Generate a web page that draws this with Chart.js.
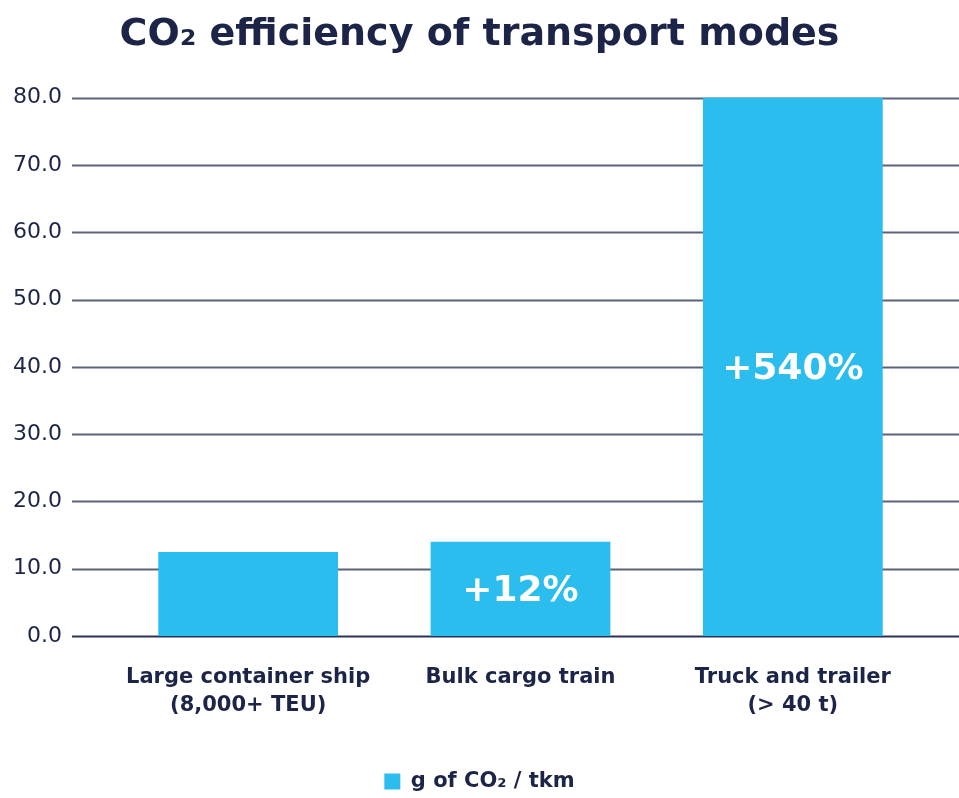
<!DOCTYPE html>
<html>
<head>
<meta charset="utf-8">
<script src="https://cdn.jsdelivr.net/npm/chart.js@4"></script>
<style>
  html, body { margin: 0; padding: 0; background: #fff; }
  #wrap { width: 959px; height: 798px; }
</style>
</head>
<body>
<div id="wrap"><canvas id="grafico"></canvas></div>
<script>
// dados
const categorias = [['Large container ship', '(8,000+ TEU)'], 'Bulk cargo train', ['Truck and trailer', '(> 40 t)']];
const valores = [12.5, 14.0, 80.0];
const rotulosBarra = ['', '+12%', '+540%'];
const serieNome = 'g of CO\u2082 / tkm';
const titulo = 'CO\u2082 efficiency of transport modes';

const azul = '#2bbdee';
const marinho = '#1c2548';
const fonte = '"DejaVu Sans", sans-serif';

// linhas de grade que passam da área do gráfico (como no original)
const gradeLarga = {
    id: 'gradeLarga',
    beforeDatasetsDraw(chart) {
        const ctx = chart.ctx;
        const y = chart.scales.y;
        ctx.save();
        y.ticks.forEach(t => {
            const py = Math.round(y.getPixelForValue(t.value)) + 0.5;
            ctx.strokeStyle = t.value === 0 ? '#2a3354' : '#5b6379';
            ctx.lineWidth = 2;
            ctx.beginPath();
            ctx.moveTo(72, py);
            ctx.lineTo(chart.width, py);
            ctx.stroke();
        });
        ctx.restore();
    }
};

// texto branco dentro das barras
const rotulos = {
    id: 'rotulos',
    afterDatasetsDraw(chart) {
        const ctx = chart.ctx;
        const meta = chart.getDatasetMeta(0);
        ctx.save();
        ctx.fillStyle = '#ffffff';
        ctx.font = 'bold 36px ' + fonte;
        ctx.textAlign = 'center';
        ctx.textBaseline = 'middle';
        meta.data.forEach((bar, i) => {
            if (!rotulosBarra[i]) return;
            const meio = (bar.y + bar.base) / 2;
            ctx.fillText(rotulosBarra[i], bar.x, meio + 3);
        });
        ctx.restore();
    }
};

const ctx = document.getElementById('grafico').getContext('2d');
new Chart(ctx, {
    type: 'bar',
    data: {
        labels: categorias,
        datasets: [{
            label: serieNome,
            data: valores,
            backgroundColor: azul,
            borderWidth: 0,
            barPercentage: 0.66,
            categoryPercentage: 1.0
        }]
    },
    plugins: [gradeLarga, rotulos],
    options: {
        responsive: true,
        maintainAspectRatio: false,
        animation: false,
        layout: { padding: { top: 0, right: 0, bottom: -4, left: 0 } },
        plugins: {
            title: {
                display: true,
                text: titulo,
                color: marinho,
                font: { family: fonte, size: 38, weight: 'bold' },
                padding: { top: 12, bottom: 40 }
            },
            legend: {
                position: 'bottom',
                labels: {
                    color: marinho,
                    font: { family: fonte, size: 21, weight: 'bold' },
                    boxWidth: 16,
                    boxHeight: 16,
                    padding: 3
                }
            },
            tooltip: { enabled: false }
        },
        scales: {
            y: {
                min: 0,
                max: 80,
                grid: { display: false, drawTicks: false },
                border: { display: false },
                ticks: {
                    stepSize: 10,
                    padding: 50,
                    color: marinho,
                    font: { family: fonte, size: 22 },
                    callback: v => v.toFixed(1)
                },
                afterFit(scale) { scale.width = 112; }
            },
            // eixo vazio à direita só para reservar espaço
            y2: {
                position: 'right',
                display: true,
                grid: { display: false, drawTicks: false },
                border: { display: false },
                ticks: { display: false },
                afterFit(scale) { scale.width = 30; }
            },
            x: {
                grid: { display: false, drawTicks: false },
                border: { display: false },
                ticks: {
                    padding: 28,
                    color: marinho,
                    font: { family: fonte, size: 21, weight: 'bold', lineHeight: 1.33 },
                    maxRotation: 0
                },
                afterFit(scale) { scale.height = 132; }
            }
        }
    }
});
</script>
</body>
</html>
